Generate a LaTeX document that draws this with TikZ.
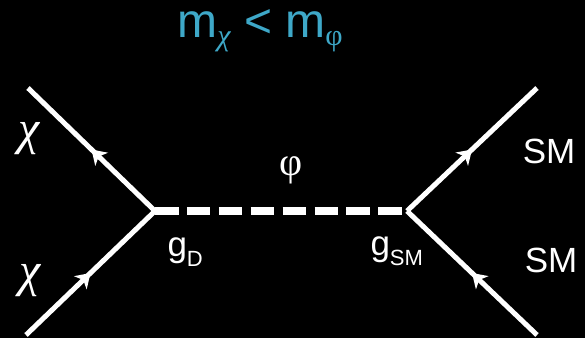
\documentclass[tikz,border=0pt]{standalone}
\usepackage{fontspec}
\setmainfont{Liberation Sans}
\newfontfamily\greekfont{Liberation Serif}
\usetikzlibrary{arrows.meta,decorations.markings}
\definecolor{titleteal}{RGB}{62,168,200}
\newcommand{\lsub}[1]{\raisebox{-10pt}{\fontsize{22}{22}\selectfont #1}}
\newcommand{\tsub}[1]{\raisebox{-8pt}{\fontsize{30}{30}\selectfont\greekfont #1}}

\begin{document}
\begin{tikzpicture}[x=1pt,y=1pt,color=white,line width=5pt,
  fermion/.style={postaction={decorate},decoration={markings,
    mark=at position .5 with {\arrow{Stealth[length=14pt,width=18pt,inset=4pt]}}}},
  scalar/.style={line width=8pt,dash pattern=on 23.5pt off 8.4pt},
  lbl/.style={inner sep=0pt,font=\fontsize{35}{35}\selectfont},
  glbl/.style={inner sep=0pt,font=\greekfont\fontsize{40}{40}\selectfont}]
\fill[black] (0,0) rectangle (585,338);
\useasboundingbox (0,0) rectangle (585,338);
% vertices and external legs
\coordinate (vl) at (155,127);\coordinate (vr) at (407,127);
\coordinate (ta) at (28,250);\coordinate (ba) at (26,3);
\coordinate (tb) at (537,250);\coordinate (bb) at (537,3);
\draw[fermion] (vl) -- (ta);
\draw[fermion] (ba) -- (vl);
\draw[fermion] (vr) -- (tb);
\draw[fermion] (bb) -- (vr);
\draw[scalar] (vl) -- (vr);
% labels
\node[glbl,font=\greekfont\itshape\fontsize{48}{48}\selectfont] (chia) at (29.5,199) {χ};
\node[glbl,font=\greekfont\itshape\fontsize{48}{48}\selectfont] (chib) at (30.5,57) {χ};
\node[glbl] (phi) at (291.5,167.5) {φ};
\node[lbl,anchor=base] (sma) at (549,175) {SM};
\node[lbl,anchor=base] (smb) at (551,66) {SM};
\node[lbl,anchor=base west] (gd) at (165,82) {g\lsub{D}};
\node[lbl,anchor=base west] (gsm) at (368,83) {g\lsub{SM}};
\node[anchor=base west,inner sep=0pt,text=titleteal,font=\fontsize{48}{48}\selectfont] (ttl) at (175,300) {m\tsub{\itshape χ} < m\tsub{φ}};
\end{tikzpicture}
\end{document}
